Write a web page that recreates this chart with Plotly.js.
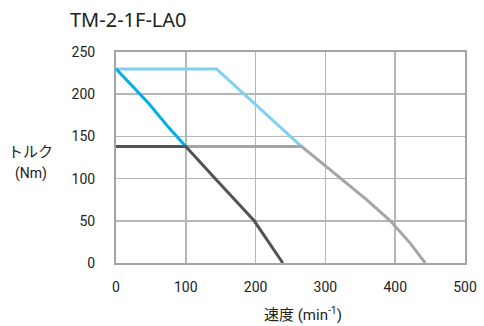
<!DOCTYPE html>
<html><head><meta charset="utf-8">
<script src="https://cdn.plot.ly/plotly-3.0.1.min.js"></script>
<style>html,body{margin:0;padding:0;background:#fff}#c{width:484px;height:326px}</style>
</head><body><div id="c"></div>
<script>
const chartTitle = "TM-2-1F-LA0";
const xTitle = "速度 (min<sup>-1</sup>)";
const yTitleLine1 = "トルク";
const yTitleLine2 = "(Nm)";
const xTicks = [0, 100, 200, 300, 400, 500];
const yTicks = [0, 50, 100, 150, 200, 250];

// light blue
const lbSpeed = [0, 144, 266];
const lbTorque = [230, 230, 138];
// gray
const gySpeed = [100, 266, 300, 321, 359, 393, 422, 443];
const gyTorque = [138, 138, 115, 101, 75, 50, 23, 0];
// blue
const bSpeed = [0, 31, 47, 75, 100];
const bTorque = [230, 203, 189, 161, 138];
// dark gray
const dSpeed = [0, 100, 142, 198, 239];
const dTorque = [138, 138, 100, 50, 0];

const font = "Roboto, 'Noto Sans CJK JP', sans-serif";
const traces = [
  {x: lbSpeed, y: lbTorque, mode: 'lines', line: {color: '#80d0f4', width: 3}},
  {x: gySpeed, y: gyTorque, mode: 'lines', line: {color: '#a3a5a6', width: 3}},
  {x: bSpeed, y: bTorque, mode: 'lines', line: {color: '#00aeea', width: 3}},
  {x: dSpeed, y: dTorque, mode: 'lines', line: {color: '#505456', width: 3}}
];
const layout = {
  width: 484, height: 326,
  margin: {l: 116, r: 19, t: 52, b: 63},
  paper_bgcolor: '#fff', plot_bgcolor: '#fff',
  showlegend: false,
  font: {family: font, size: 14, color: '#222'},
  xaxis: {
    range: [0, 500], tickvals: xTicks, ticktext: xTicks.map(String),
    showgrid: true, gridcolor: '#b4b6b8', gridwidth: 1.5,
    showline: true, mirror: true, linecolor: '#a3a5a7', linewidth: 2,
    ticks: 'outside', ticklen: 10, tickcolor: 'rgba(0,0,0,0)',
    zeroline: false, fixedrange: true
  },
  yaxis: {
    range: [0, 250], tickvals: yTicks, ticktext: yTicks.map(String),
    showgrid: true, gridcolor: '#b4b6b8', gridwidth: 1.5,
    showline: true, mirror: true, linecolor: '#a3a5a7', linewidth: 2,
    ticks: 'outside', ticklen: 16, tickcolor: 'rgba(0,0,0,0)',
    zeroline: false, fixedrange: true
  },
  annotations: [
    {text: chartTitle, xref: 'paper', yref: 'paper', x: -0.138, y: 1.082, xanchor: 'left', yanchor: 'bottom',
     showarrow: false, font: {family: "'Noto Sans', Roboto, sans-serif", size: 20, color: '#222'}},
    {text: yTitleLine1, xref: 'paper', yref: 'paper', x: -0.244, y: (263 - 151.5) / 211, xanchor: 'center', yanchor: 'middle',
     showarrow: false, font: {family: font, size: 15, color: '#222'}},
    {text: yTitleLine2, xref: 'paper', yref: 'paper', x: -0.244, y: (263 - 173) / 211, xanchor: 'center', yanchor: 'middle',
     showarrow: false, font: {family: font, size: 14, color: '#222'}},
    {text: xTitle, xref: 'paper', yref: 'paper', x: 0.536, y: -0.242, xanchor: 'center', yanchor: 'middle',
     showarrow: false, font: {family: font, size: 15, color: '#222'}}
  ]
};
Plotly.newPlot('c', traces, layout, {displayModeBar: false, staticPlot: true});
</script></body></html>
